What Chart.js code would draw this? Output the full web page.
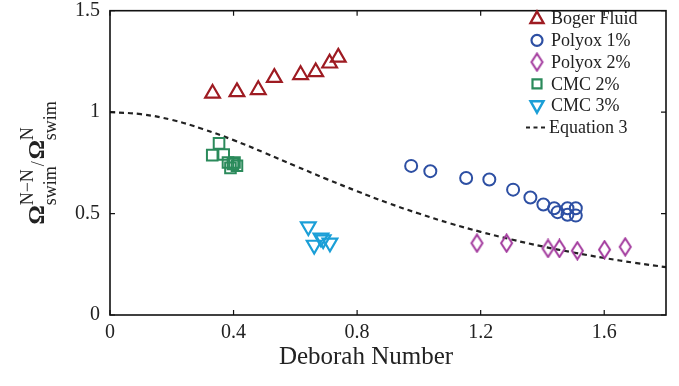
<!DOCTYPE html>
<html>
<head>
<meta charset="utf-8">
<script src="https://cdn.jsdelivr.net/npm/chart.js@4.4.0/dist/chart.umd.min.js"></script>
<style>
  html, body { margin: 0; padding: 0; background: #fff; }
</style>
</head>
<body>
<canvas id="deborahChart" width="679" height="386"></canvas>
<script>
// values
const seriesNames = ['Boger Fluid', 'Polyox 1%', 'Polyox 2%', 'CMC 2%', 'CMC 3%', 'Equation 3'];

const bogerX = [0.332, 0.411, 0.480, 0.532, 0.617, 0.666, 0.711, 0.739];
const bogerY = [1.092, 1.100, 1.110, 1.170, 1.184, 1.198, 1.241, 1.270];

const polyox1X = [0.975, 1.037, 1.153, 1.228, 1.305, 1.361, 1.403, 1.438, 1.449, 1.481, 1.481, 1.508, 1.508];
const polyox1Y = [0.735, 0.709, 0.675, 0.668, 0.618, 0.579, 0.545, 0.526, 0.507, 0.526, 0.494, 0.526, 0.490];

const polyox2X = [1.188, 1.284, 1.418, 1.455, 1.513, 1.601, 1.668];
const polyox2Y = [0.354, 0.354, 0.328, 0.328, 0.317, 0.322, 0.336];

const cmc2X = [0.353, 0.331, 0.368, 0.382, 0.398, 0.411, 0.390, 0.403];
const cmc2Y = [0.846, 0.788, 0.791, 0.752, 0.744, 0.736, 0.725, 0.752];

const cmc3X = [0.642, 0.683, 0.661, 0.712, 0.690];
const cmc3Y = [0.436, 0.380, 0.345, 0.356, 0.372];

const eqX = [0, 0.1, 0.2, 0.3, 0.4, 0.5, 0.6, 0.7, 0.8, 0.9, 1.0, 1.1, 1.2, 1.3, 1.4, 1.5, 1.6, 1.7, 1.8];
const eqY = [1.0, 0.99, 0.962, 0.917, 0.862, 0.80, 0.735, 0.671, 0.61, 0.552, 0.50, 0.452, 0.41, 0.372, 0.338, 0.308, 0.281, 0.257, 0.236];

const xTicks = [0, 0.4, 0.8, 1.2, 1.6];
const yTicks = [0, 0.5, 1, 1.5];

const colors = ['#9e1b22', '#2d4fa3', '#a2399d', '#2b8a5b', '#1b9fd7', '#222'];
const serif = '"Liberation Serif", "Times New Roman", serif';

function pts(xs, ys) {
  return xs.map((x, i) => ({ x: x, y: ys[i] }));
}

// tall diamond, the library has only a square one
function diamondImage(color) {
  const c = document.createElement('canvas');
  c.width = 15; c.height = 20;
  const g = c.getContext('2d');
  g.strokeStyle = color;
  g.lineWidth = 2;
  g.beginPath();
  g.moveTo(7.5, 1.5); g.lineTo(13, 10); g.lineTo(7.5, 18.5); g.lineTo(2, 10);
  g.closePath();
  g.stroke();
  return c;
}
const diamond = diamondImage(colors[2]);

function drawMarker(ctx, i, x, y) {
  ctx.save();
  ctx.strokeStyle = colors[i];
  ctx.beginPath();
  if (i === 0) {
    ctx.lineWidth = 2.4;
    ctx.moveTo(x, y - 7); ctx.lineTo(x + 6.5, y + 4.5); ctx.lineTo(x - 6.5, y + 4.5); ctx.closePath();
  } else if (i === 1) {
    ctx.lineWidth = 2.2;
    ctx.arc(x, y, 5.5, 0, Math.PI * 2);
  } else if (i === 2) {
    ctx.drawImage(diamond, x - 7.5, y - 10);
  } else if (i === 3) {
    ctx.lineWidth = 2.2;
    ctx.rect(x - 4.5, y - 4.5, 9, 9);
  } else if (i === 4) {
    ctx.lineWidth = 2.4;
    ctx.moveTo(x, y + 7); ctx.lineTo(x + 6.5, y - 4.5); ctx.lineTo(x - 6.5, y - 4.5); ctx.closePath();
  } else {
    ctx.lineWidth = 2;
    ctx.setLineDash([4, 3.5]);
    ctx.moveTo(x - 11, y); ctx.lineTo(x + 11, y);
  }
  ctx.stroke();
  ctx.restore();
}

// box, inward ticks, axis labels and legend
const extras = {
  id: 'extras',
  afterDraw(chart) {
    const { ctx, chartArea: a, scales } = chart;
    ctx.save();
    ctx.strokeStyle = '#111';
    ctx.lineWidth = 1.6;
    ctx.strokeRect(a.left, a.top, a.right - a.left, a.bottom - a.top);
    ctx.lineWidth = 1.2;
    ctx.beginPath();
    xTicks.forEach(v => {
      const px = scales.x.getPixelForValue(v);
      ctx.moveTo(px, a.bottom); ctx.lineTo(px, a.bottom - 5);
      ctx.moveTo(px, a.top); ctx.lineTo(px, a.top + 5);
    });
    yTicks.forEach(v => {
      const py = scales.y.getPixelForValue(v);
      ctx.moveTo(a.left, py); ctx.lineTo(a.left + 5, py);
      ctx.moveTo(a.right, py); ctx.lineTo(a.right - 5, py);
    });
    ctx.stroke();

    ctx.fillStyle = '#222';
    ctx.textBaseline = 'middle';
    ctx.textAlign = 'center';
    ctx.font = '25px ' + serif;
    ctx.fillText('Deborah Number', 366, 357);

    // y title with super/subscripts
    const big = 'bold 24px ' + serif;
    const small = '18px ' + serif;
    const parts = [
      { t: 'Ω', sup: 'N\u2212N', sub: 'swim' },
      { t: '/', slash: true },
      { t: 'Ω', sup: 'N', sub: 'swim' }
    ];
    ctx.textAlign = 'left';
    ctx.textBaseline = 'alphabetic';
    let total = 0;
    parts.forEach(p => {
      ctx.font = p.slash ? small : big;
      p.w = ctx.measureText(p.t).width;
      ctx.font = small;
      p.s = p.slash ? 0 : Math.max(ctx.measureText(p.sup).width, ctx.measureText(p.sub).width);
      total += p.w + p.s + (p.slash ? 2 : 0);
    });
    ctx.translate(44, (a.top + a.bottom) / 2);
    ctx.rotate(-Math.PI / 2);
    let x = -total / 2;
    parts.forEach(p => {
      ctx.font = p.slash ? small : big;
      ctx.fillText(p.t, x, 0);
      x += p.w;
      if (!p.slash) {
        ctx.font = small;
        ctx.fillText(p.sup, x, -11);
        ctx.fillText(p.sub, x, 12);
        x += p.s;
      } else {
        x += 2;
      }
    });
    ctx.restore();

    ctx.save();
    ctx.font = '18px ' + serif;
    ctx.fillStyle = '#222';
    ctx.textBaseline = 'middle';
    seriesNames.forEach((name, i) => {
      const y = 18.5 + i * 21.8;
      drawMarker(ctx, i, 537, y);
      ctx.fillText(name, i === 5 ? 549 : 551, y + 1);
    });
    ctx.restore();
  }
};

const ctx = document.getElementById('deborahChart').getContext('2d');

new Chart(ctx, {
  type: 'scatter',
  data: {
    datasets: [
      { label: seriesNames[0], data: pts(bogerX, bogerY), pointStyle: 'triangle', pointRadius: 8.5,
        borderColor: colors[0], backgroundColor: 'transparent', borderWidth: 2.2 },
      { label: seriesNames[1], data: pts(polyox1X, polyox1Y), pointStyle: 'circle', pointRadius: 6,
        borderColor: colors[1], backgroundColor: 'transparent', borderWidth: 2 },
      { label: seriesNames[2], data: pts(polyox2X, polyox2Y), pointStyle: diamond,
        borderColor: colors[2], backgroundColor: 'transparent' },
      { label: seriesNames[3], data: pts(cmc2X, cmc2Y), pointStyle: 'rect', pointRadius: 7.5,
        borderColor: colors[3], backgroundColor: 'transparent', borderWidth: 2 },
      { label: seriesNames[4], data: pts(cmc3X, cmc3Y), pointStyle: 'triangle', rotation: 180, pointRadius: 8.5,
        borderColor: colors[4], backgroundColor: 'transparent', borderWidth: 2.2 },
      { label: seriesNames[5], type: 'line', data: pts(eqX, eqY), showLine: true, pointRadius: 0,
        borderColor: colors[5], borderWidth: 2.2, borderDash: [5, 4], tension: 0.4, fill: false }
    ]
  },
  options: {
    responsive: false,
    animation: false,
    events: [],
    layout: { padding: { left: 0, top: 7, right: 13, bottom: 0 } },
    plugins: {
      legend: { display: false },
      tooltip: { enabled: false }
    },
    scales: {
      x: {
        type: 'linear',
        min: 0,
        max: 1.8,
        afterBuildTicks: s => { s.ticks = xTicks.map(v => ({ value: v })); },
        afterFit: s => { s.height = 71; s.paddingLeft = 0; s.paddingRight = 0; },
        grid: { display: false, drawTicks: false },
        border: { display: false },
        ticks: {
          padding: 6,
          color: '#222',
          font: { family: serif, size: 20 },
          maxRotation: 0,
          callback: v => String(v)
        }
      },
      y: {
        type: 'linear',
        min: 0,
        max: 1.5,
        afterBuildTicks: s => { s.ticks = yTicks.map(v => ({ value: v })); },
        afterFit: s => { s.width = 110; s.paddingTop = 0; s.paddingBottom = 0; },
        grid: { display: false, drawTicks: false },
        border: { display: false },
        ticks: {
          padding: 10,
          color: '#222',
          font: { family: serif, size: 20 },
          callback: v => String(v)
        }
      }
    }
  },
  plugins: [extras]
});
</script>
</body>
</html>
